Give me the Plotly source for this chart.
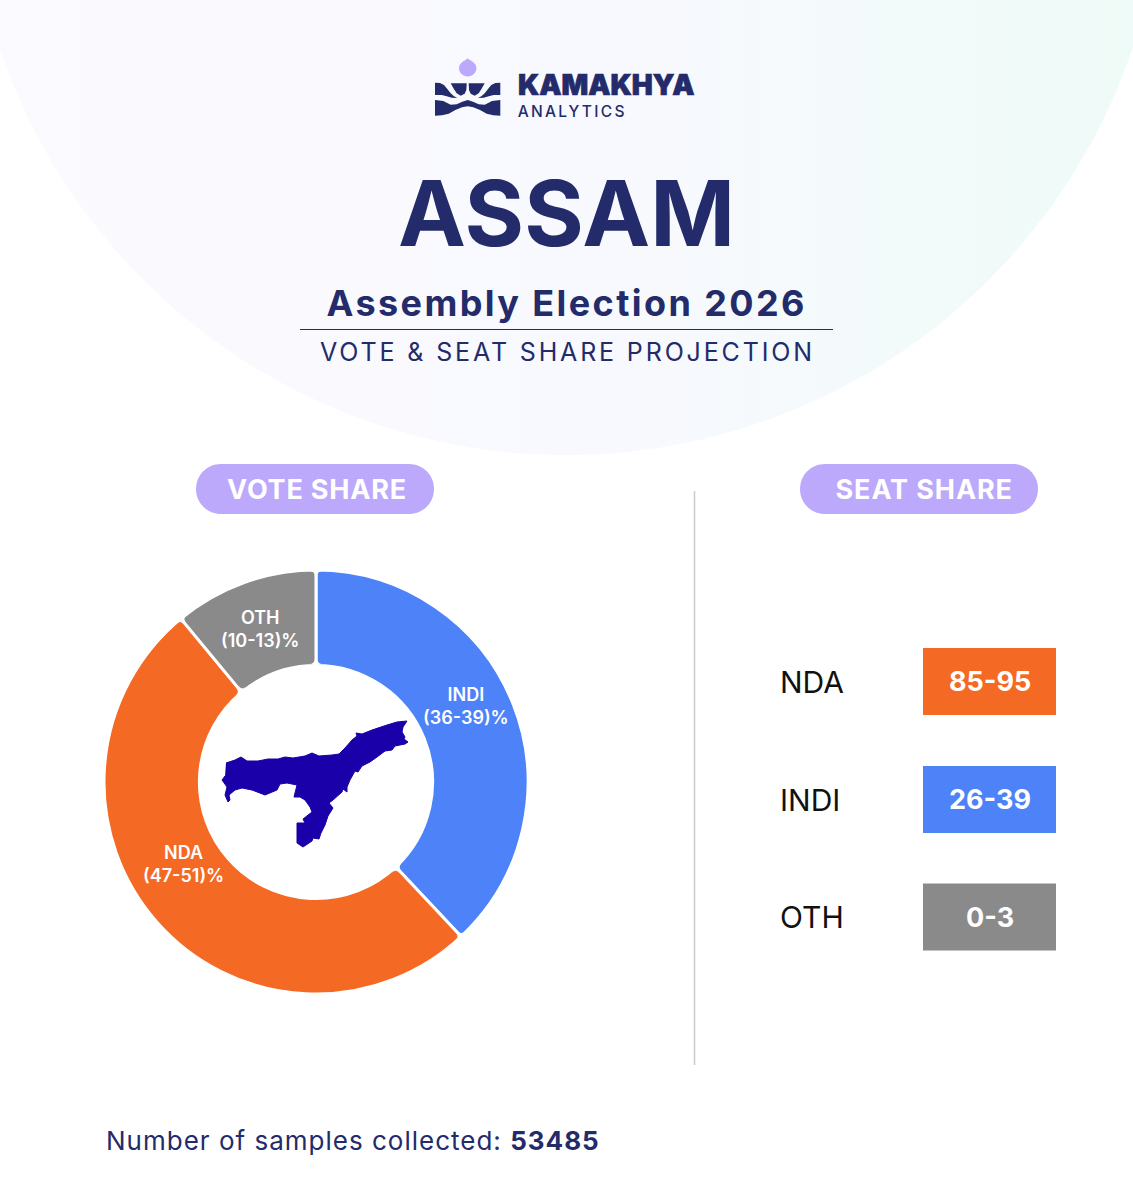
import numpy as np
import plotly.graph_objects as go

NAVY = "#232b6a"
LILAC = "#bca9fb"
FONT = "Inter"

# vote share, midpoint-ish values
vote_parties = ["INDI", "NDA", "OTH"]
vote_values = [38, 51, 11]
vote_labels = ["INDI<br>(36-39)%", "NDA<br>(47-51)%", "OTH<br>(10-13)%"]
vote_colors = ["#4d82f8", "#f46a25", "#8a8a8a"]
vote_label_x = [466, 183, 260]
vote_label_y = [706, 864, 629]

# seat share table
seat_parties = ["NDA", "INDI", "OTH"]
seat_ranges = ["85-95", "26-39", "0-3"]
seat_colors = ["#f46a25", "#4d82f8", "#8a8a8a"]
seat_row_y = [681.5, 799.5, 917]

samples = 53485

# map outline, traced in page pixels
assam_x = [226, 235, 241, 247, 258, 268, 278, 285, 293, 305, 312, 319, 332, 339, 345, 352, 357, 356, 362,
           372, 387, 397, 407, 403, 402, 405, 404, 408, 405, 395, 392, 385, 377, 370, 362, 358, 355, 350,
           347, 347, 343, 342, 333, 329, 333, 328, 325, 321, 319, 313, 312, 303, 297, 297, 297, 305, 303,
           312, 310, 305, 300, 294, 297, 287, 283, 280, 277, 265, 252, 242, 235, 229, 230, 228, 225, 227,
           222, 225]
assam_y = [763, 760, 757, 761, 761, 759, 759, 757, 758, 756, 753, 756, 755, 754, 748, 740, 736, 733, 734,
           730, 725, 722, 721, 727, 732, 737, 739, 742, 744, 746, 750, 751, 757, 762, 766, 772, 771, 780,
           787, 792, 789, 792, 800, 803, 808, 816, 825, 833, 839, 838, 841, 847, 843, 828, 823, 823, 819,
           812, 807, 800, 797, 797, 785, 783, 784, 784, 790, 795, 790, 788, 790, 795, 800, 802, 795, 787,
           780, 776]

# page background arc
theta = np.linspace(0, 2 * np.pi, 241)
arc_x = 566 + 598 * np.cos(theta)
arc_y = -143 + 598 * np.sin(theta)

# ring geometry on the page
ring_cx, ring_cy = 316, 782
ring_outer, ring_inner = 211, 118

fig = go.Figure()

fig.add_trace(go.Scatter(
    x=arc_x, y=arc_y, mode="lines", fill="toself",
    line=dict(width=0, color="rgba(0,0,0,0)"),
    fillgradient=dict(type="horizontal", colorscale=[[0, "#fbfafe"], [0.55, "#f8f9fe"], [1, "#eefbf7"]]),
    hoverinfo="skip", showlegend=False,
))

fig.add_trace(go.Scatter(
    x=assam_x, y=assam_y, mode="lines", fill="toself", fillcolor="#1a00a8",
    line=dict(width=1, color="#1a00a8"), hoverinfo="skip", showlegend=False,
))

fig.add_trace(go.Pie(
    labels=vote_parties, values=vote_values, hole=0.55, sort=False, direction="clockwise", rotation=0,
    marker=dict(colors=vote_colors, line=dict(color="white", width=3)),
    textinfo="none", showlegend=False,
    domain=dict(x=[(ring_cx - 212) / 1133, (ring_cx + 212) / 1133],
                y=[1 - (ring_cy + 212) / 1200, 1 - (ring_cy - 212) / 1200]),
))


def label(x, y, text, size, color=NAVY, weight=400, anchor="center"):
    fig.add_annotation(x=x, y=y, text=text, showarrow=False, xanchor=anchor, yanchor="middle",
                       font=dict(family=FONT, size=size, color=color, weight=weight), align="center")


def pill(x0, x1, text, text_x):
    r, k = 25, 11
    path = (f"M{x0+r},464 H{x1-r} C{x1-k},464 {x1},{489-14} {x1},489 C{x1},{489+14} {x1-k},514 {x1-r},514 "
            f"H{x0+r} C{x0+k},514 {x0},{489+14} {x0},489 C{x0},{489-14} {x0+k},464 {x0+r},464 Z")
    fig.add_shape(type="path", path=path, fillcolor=LILAC, line_width=0, layer="above")
    label(text_x, 489, text, 27, "white", 700)


def poly(points, mirror=False):
    # logo pieces were traced on a 3x crop of the logo
    out = []
    for px, py in points:
        px = 226 - px if mirror else px
        out.append(f"{430 + px / 3:.1f},{55 + py / 3:.1f}")
    return "M" + " L".join(out) + " Z"


# soften the ring's slice corners
edges = np.cumsum([0] + vote_values[:-1]) / sum(vote_values) * 2 * np.pi
for a in edges:
    u = np.array([np.sin(a), -np.cos(a)])
    t = np.array([np.cos(a), np.sin(a)])
    for side in (-1, 1):
        for rad, sign in ((ring_outer, 1), (ring_inner, -1)):
            p = np.array([ring_cx, ring_cy]) + u * rad + t * side * 1.5
            p0 = p + u * sign * 1.2 + t * side * -0.8
            a0 = p - u * sign * 5
            b0 = p + t * side * 5
            fig.add_shape(type="path", fillcolor="white", line_width=0,
                          path=(f"M{a0[0]:.2f},{a0[1]:.2f} L{p0[0]:.2f},{p0[1]:.2f} L{b0[0]:.2f},{b0[1]:.2f} "
                                f"Q{p[0]:.2f},{p[1]:.2f} {a0[0]:.2f},{a0[1]:.2f} Z"))

# logo
fig.add_shape(type="path", fillcolor=LILAC, line_width=0,
              path="M467.7,58.3 C469.5,60.5 476.4,62.5 476.4,68 C476.4,73 472.5,76.4 467.7,76.4 "
                   "C462.9,76.4 459,73 459,68 C459,62.5 465.9,60.5 467.7,58.3 Z")
blob = [(15, 83), (30, 84), (42, 90), (52, 102), (62, 115), (72, 124), (82, 129), (65, 128), (50, 124),
        (35, 120), (15, 120)]
cup = [(62, 85), (110, 85), (109, 105), (104, 116), (92, 122), (80, 115), (72, 103)]
band = [(15, 135), (40, 138), (62, 149), (80, 148), (97, 140), (113, 135), (129, 140), (146, 148), (164, 149),
        (186, 138), (211, 135), (211, 182), (190, 181), (170, 176), (150, 165), (130, 157), (113, 154),
        (96, 157), (76, 165), (56, 176), (36, 181), (15, 182)]
for piece in (blob, cup):
    for m in (False, True):
        fig.add_shape(type="path", path=poly(piece, m), fillcolor=NAVY, line_width=0)
fig.add_shape(type="path", path=poly(band), fillcolor=NAVY, line_width=0)
label(516, 84.5, "KAMAKHYA", 28, NAVY, 900, "left")
label(572, 111, "ANALYTICS", 15.5, NAVY, 500)

# heading
label(566, 213, "ASSAM", 91, NAVY, 700)
label(566, 303, "Assembly Election 2026", 36, NAVY, 700)
fig.add_shape(type="line", x0=300, x1=833, y0=329.5, y1=329.5, line=dict(color=NAVY, width=1))
label(567, 352, "VOTE &amp; SEAT SHARE PROJECTION", 25, NAVY, 400)

pill(196, 434, "VOTE SHARE", 317)
pill(800, 1038, "SEAT SHARE", 924)
fig.add_shape(type="line", x0=694.5, x1=694.5, y0=491, y1=1065, line=dict(color="#cccccc", width=1.5))

for xv, yv, txt in zip(vote_label_x, vote_label_y, vote_labels):
    label(xv, yv, txt, 18, "white", 600)

for party, rng, col, yc in zip(seat_parties, seat_ranges, seat_colors, seat_row_y):
    fig.add_shape(type="rect", x0=923, x1=1056, y0=yc - 33.5, y1=yc + 33.5, fillcolor=col, line_width=0)
    label(778, yc, party, 30, "#111111", 400, "left")
    label(989.5, yc, rng, 27, "white", 700)

label(353, 1140, f"Number of samples collected: <b>{samples}</b>", 26, NAVY, 400)

fig.update_layout(
    width=1133, height=1200, margin=dict(l=0, r=0, t=0, b=0),
    paper_bgcolor="white", plot_bgcolor="white",
    xaxis=dict(range=[0, 1133], visible=False, fixedrange=True),
    yaxis=dict(range=[1200, 0], visible=False, fixedrange=True),
)

# plotly has no letter spacing option, so it is set on the drawn text
post = """
document.body.style.margin = '0';
var spacing = {'ANALYTICS': '2.3px', 'Assembly Election 2026': '2.4px',
               'VOTE & SEAT SHARE PROJECTION': '2.85px', 'Number of samples': '1px',
               'VOTE SHARE': '0.8px', 'SEAT SHARE': '0.9px'};
document.querySelectorAll('.annotation-text').forEach(function (t) {
  Object.keys(spacing).forEach(function (k) {
    if (t.textContent.indexOf(k) === 0) { t.style.letterSpacing = spacing[k]; }
  });
  if (t.textContent === 'KAMAKHYA') { t.style.stroke = '#232b6a'; t.style.strokeWidth = '0.7px'; }
});
"""
fig.write_html("out.html", post_script=post, config=dict(displayModeBar=False))
